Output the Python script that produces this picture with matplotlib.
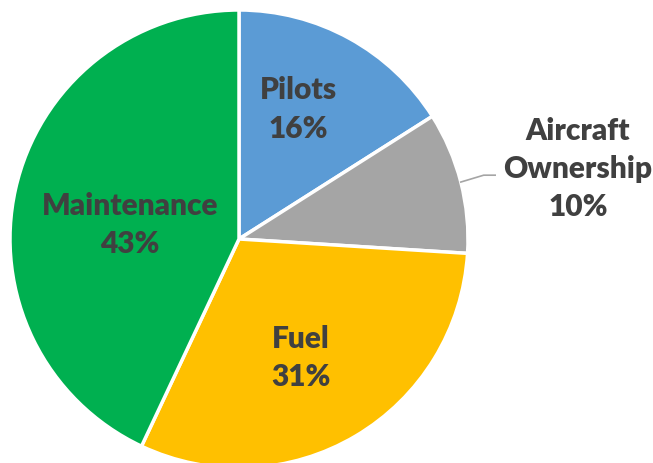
import numpy as np
import matplotlib.pyplot as plt

categories = ["Pilots", "Aircraft\nOwnership", "Fuel", "Maintenance"]
shares = [16, 10, 31, 43]
colors = ["#5B9BD5", "#A5A5A5", "#FFC000", "#00B050"]

W, H = 653, 464
fig = plt.figure(figsize=(W / 100, H / 100), dpi=100)
cx, cy, r = 239, 240, 229
ax = fig.add_axes([(cx - r) / W, (H - cy - r) / H, 2 * r / W, 2 * r / H])

wedges, _ = ax.pie(shares, colors=colors, startangle=90, counterclock=False,
                   radius=1.0, wedgeprops=dict(edgecolor="white", linewidth=2.5))
ax.set_xlim(-1, 1)
ax.set_ylim(-1, 1)
ax.set_aspect("equal")
ax.axis("off")

font = dict(family=["Lato", "DejaVu Sans"], fontweight="heavy", fontsize=21.5,
            color="#404040", ha="center", va="center", linespacing=1.45)

# label positions in pie units (inside labels)
inside_pos = {0: (0.26, 0.57), 2: (0.27, -0.515), 3: (-0.476, 0.066)}
for i, (x, y) in inside_pos.items():
    ax.text(x, y, f"{categories[i]}\n{shares[i]}%", **font)

# outside label with leader line for aircraft ownership
w = wedges[1]
mid = np.deg2rad((w.theta1 + w.theta2) / 2)
ex, ey = np.cos(mid), np.sin(mid)
ax.plot([ex, ex + 0.1, ex + 0.15], [ey, ey + 0.03, ey + 0.03],
        color="#A5A5A5", lw=1.2, clip_on=False)
ax.text(1.48, 0.31, f"{categories[1]}\n{shares[1]}%", clip_on=False, **font)

fig.savefig("out.png", dpi=100)
